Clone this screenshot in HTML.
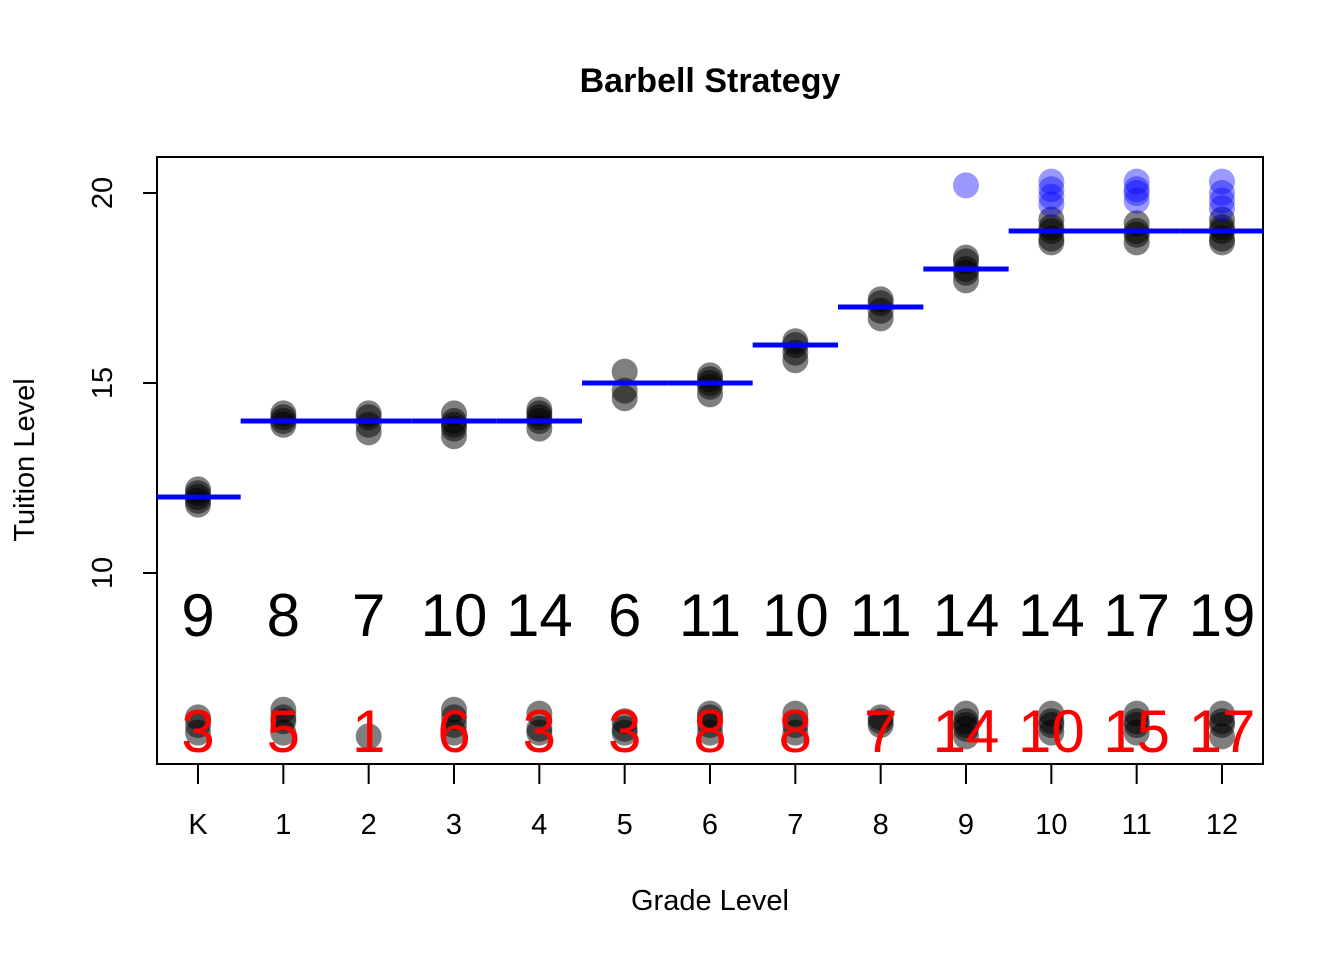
<!DOCTYPE html>
<html><head><meta charset="utf-8"><style>
body{margin:0;background:#fff}
svg{display:block;font-family:"Liberation Sans",Arial,sans-serif}
</style></head><body>
<svg id="chart" width="1344" height="960">
<text x="710" y="92" text-anchor="middle" font-size="34" font-weight="bold">Barbell Strategy</text>
<rect x="157" y="157" width="1106" height="607" fill="none" stroke="#000" stroke-width="2"/>
<text x="710" y="910" text-anchor="middle" font-size="29">Grade Level</text>
<text transform="translate(34,460) rotate(-90)" text-anchor="middle" font-size="29">Tuition Level</text>
<g id="marks"></g>
</svg>
<script>
const grades=["K","1","2","3","4","5","6","7","8","9","10","11","12"];
const levels=[12,14,14,14,14,15,15,16,17,18,19,19,19];
const counts=[9,8,7,10,14,6,11,10,11,14,14,17,19];
const lowCounts=[3,5,1,6,3,3,8,8,7,14,10,15,17];
const upperPts=[[11.9,12.1,12.2,12.0,11.8],[14.2,13.9,14.1,14.0],[14.2,13.7,13.9,14.1],[14.2,13.8,13.6,14.0,13.9],[14.3,14.0,13.8,14.1,14.2],[15.3,14.8,14.6],[15.2,14.9,14.7,15.0,15.1],[16.1,15.8,15.6,16.0],[17.2,16.9,16.7,17.1],[18.3,18.0,17.7,18.2,17.9],[19.3,19.0,18.7,19.1,18.8],[19.2,18.9,18.7,19.0],[19.3,19.0,18.7,19.1,18.8]];
const bluePts=[[],[],[],[],[],[],[],[],[],[20.2],[20.3,20.1,19.9,19.7],[20.3,20.1,20.0,19.8],[20.3,20.0,19.8,19.6]];
const lowPts=[[6.0,5.8,6.2],[6.4,6.1,5.8,6.2],[5.7],[6.4,6.0,5.8,6.2],[6.3,5.8,5.9],[6.1,5.8,5.9],[6.3,6.0,5.8,6.2],[6.3,6.0,5.8],[6.2,6.0,6.1],[6.3,6.0,5.7,6.1,5.9],[6.3,6.0,5.8,6.1],[6.3,6.0,5.8,6.1],[6.3,6.0,5.7,6.1]];
const yTicks=[10,15,20];
const ns="http://www.w3.org/2000/svg";
const X=i=>198+i*(1222-198)/12;
const Y=v=>193+(20-v)*38;
const g=document.getElementById('marks');
function mk(t,a,parent){const e=document.createElementNS(ns,t);for(const k in a)e.setAttribute(k,a[k]);(parent||g).appendChild(e);return e;}
yTicks.forEach(v=>{
 const t=mk('line',{x1:143,x2:157,y1:Y(v),y2:Y(v),stroke:'#000','stroke-width':2});
 
 
 const l=mk('text',{transform:`translate(112,${Y(v)}) rotate(-90)`,'text-anchor':'middle','font-size':29});
 l.textContent=v;
 
 
});
grades.forEach((gr,i)=>{
 const t=mk('line',{x1:X(i),x2:X(i),y1:764,y2:784,stroke:'#000','stroke-width':2});
 
 
 const l=mk('text',{x:X(i),y:834,'text-anchor':'middle','font-size':29});
 l.textContent=gr;
 
 
 upperPts[i].concat(lowPts[i]).forEach(v=>{
  const c=mk('circle',{cx:X(i),cy:Y(v),r:13,fill:'#000','fill-opacity':0.5});
  
  
 });
 bluePts[i].forEach(v=>{
  const c=mk('circle',{cx:X(i),cy:Y(v),r:13,fill:'#0000ff','fill-opacity':0.4});
  
  
 });
 const s=mk('line',{x1:Math.max(157,X(i-0.5)),x2:Math.min(1263,X(i+0.5)),y1:Y(levels[i]),y2:Y(levels[i]),stroke:'#0000ff','stroke-width':5});
 
 
 const c1=mk('text',{x:X(i),y:636,'text-anchor':'middle','font-size':60});
 c1.textContent=counts[i];
 
 
 const c2=mk('text',{x:X(i),y:752,'text-anchor':'middle','font-size':60,fill:'#ff0000'});
 c2.textContent=lowCounts[i];
 
 
});
</script>
</body></html>
